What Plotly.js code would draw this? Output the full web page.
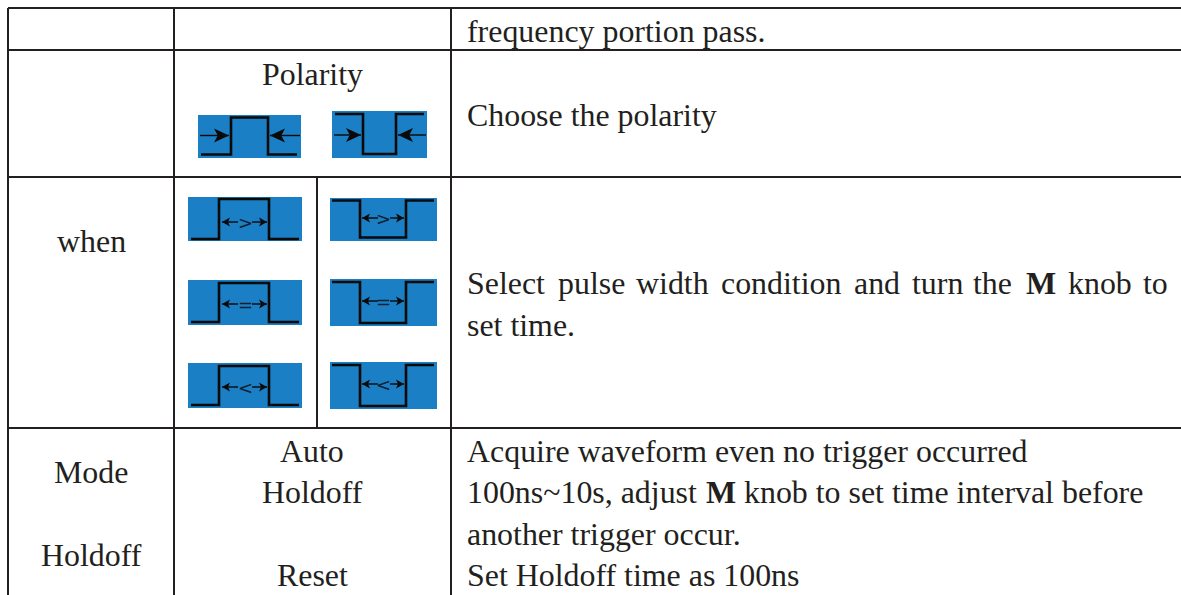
<!DOCTYPE html>
<html><head><meta charset="utf-8">
<script src="https://cdn.plot.ly/plotly-3.0.1.min.js"></script>
<style>html,body{margin:0;padding:0;background:#fff}#c{width:1181px;height:595px}</style></head>
<body><div id="c"></div>
<script>
const cellText = ["frequency portion pass.","Polarity","Choose the polarity","when","set time.","Mode","Holdoff","Auto","Holdoff","Reset","Acquire waveform even no trigger occurred","another trigger occur.","Set Holdoff time as 100ns"];
const cellX = [467,312,467,91,467,91,91,312,312,312,467,467,467];
const cellY = [31,74,115,241,325,472,555,451,492,575,451,534,575];
const cellAnchor = ["left","center","left","center","left","center","center","center","center","center","left","left","left"];
const justifiedWords = ["Select","pulse","width","condition","and","turn","the","<b>M</b>","knob","to"];
const justifiedX = [466.5,558,635.5,721,854,911.5,973,1026,1068,1143];
const mixedWords = ["100ns~10s, adjust","<b>M</b>","knob to set time interval before"];
const mixedX = [467,706,744];
const hLines = [[8,1181,8],[8,1181,50],[8,1181,177],[8,1181,428]];
const vLines = [[8,8,595],[174,8,595],[451,8,595],[317,177,428]];
const icons = [
 {box:[198,301,115,158],wx:[201,231,268,297],wy:[154.5,117.5],ay:135.5,big:true,tips:[200,229,270,300]},
 {box:[332,427,111,158],wx:[335,363,396,424],wy:[114,154],ay:135,big:true,tips:[334,361,398,426]},
 {box:[188,302,197,241],wx:[191,219,269,299],wy:[239,199],ay:222,sym:">",sx:245,tips:[222,238,252,267]},
 {box:[330,437,198,241],wx:[332,360,406,434],wy:[200.5,237.5],ay:218,sym:">",sx:383,tips:[362,378,390,404]},
 {box:[188,302,280,325],wx:[191,219,269,299],wy:[322,283],ay:304,sym:"=",sx:245,tips:[222,238,252,267]},
 {box:[330,437,279,326],wx:[332,360,406,434],wy:[282,323],ay:301,sym:"=",sx:383,tips:[362,378,390,404]},
 {box:[188,302,363,408],wx:[191,219,269,299],wy:[405,366],ay:387,sym:"<",sx:245,tips:[222,238,252,267]},
 {box:[330,437,362,409],wx:[332,360,406,434],wy:[365,406],ay:384,sym:"<",sx:383,tips:[362,378,390,404]}
];
const INK="#231f20", BLUE="#1a7fc4", WAVE="#0a0a0a";
const shapes=[], annotations=[], traces=[];
hLines.forEach(l=>shapes.push({type:"line",x0:l[0],x1:l[1],y0:l[2],y1:l[2],line:{color:INK,width:2},layer:"below"}));
vLines.forEach(l=>shapes.push({type:"line",x0:l[0],x1:l[0],y0:l[1],y1:l[2],line:{color:INK,width:2},layer:"below"}));
function txt(t,x,y,a){annotations.push({text:t,x:x,y:y,xref:"x",yref:"y",xanchor:a,yanchor:"middle",showarrow:false,align:a,
  font:{family:"Liberation Serif, Times New Roman, serif",size:31.9,color:INK},borderpad:0,borderwidth:0});}
cellText.forEach((t,i)=>txt(t,cellX[i],cellY[i],cellAnchor[i]));
justifiedWords.forEach((w,i)=>txt(w,justifiedX[i],283,"left"));
mixedWords.forEach((w,i)=>txt(w,mixedX[i],492,"left"));
function head(xTip,xBase,y,h){const n=xTip+(xBase-xTip)*0.75;return `M ${xTip} ${y} L ${xBase} ${y-h} L ${n} ${y} L ${xBase} ${y+h} Z`;}
function seg(x,y,w){traces.push({type:"scatter",mode:"lines",x:x,y:y,line:{color:WAVE,width:w},hoverinfo:"skip",showlegend:false});}
icons.forEach(k=>{
  shapes.push({type:"rect",x0:k.box[0],x1:k.box[1],y0:k.box[2],y1:k.box[3],fillcolor:BLUE,line:{width:0},layer:"below"});
  const [a,b,c,d]=k.wx,[s,m]=k.wy,t=k.tips;
  seg([a,b,b,c,c,d],[s,s,m,m,s,s],2.6);
  seg([t[0],t[1]],[k.ay,k.ay],1.4);
  seg([t[2],t[3]],[k.ay,k.ay],1.4);
  if(k.big){
    shapes.push({type:"path",path:head(t[1],t[1]-15,k.ay,7),fillcolor:WAVE,line:{width:0}});
    shapes.push({type:"path",path:head(t[2],t[2]+15,k.ay,7),fillcolor:WAVE,line:{width:0}});
  } else {
    shapes.push({type:"path",path:head(t[0],t[0]+8,k.ay,4.5),fillcolor:WAVE,line:{width:0}});
    shapes.push({type:"path",path:head(t[3],t[3]-8,k.ay,4.5),fillcolor:WAVE,line:{width:0}});
    annotations.push({text:k.sym,x:k.sx,y:k.ay,xref:"x",yref:"y",xanchor:"center",yanchor:"middle",showarrow:false,
      font:{family:"DejaVu Sans",size:18,color:"#10202c"}});
  }
});
Plotly.newPlot("c",traces,{width:1181,height:595,margin:{l:0,r:0,t:0,b:0,pad:0},paper_bgcolor:"#fff",plot_bgcolor:"#fff",showlegend:false,
  xaxis:{range:[0,1181],visible:false,fixedrange:true,showgrid:false,zeroline:false},yaxis:{range:[595,0],visible:false,fixedrange:true,showgrid:false,zeroline:false},shapes,annotations},{displayModeBar:false,staticPlot:true});
</script></body></html>
